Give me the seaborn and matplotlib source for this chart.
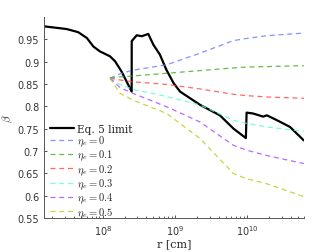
import numpy as np
import pandas as pd
import matplotlib
matplotlib.use("Agg")
import matplotlib.pyplot as plt
import seaborn as sns

# Eq. 5 limit (log10 r, beta)
limit_logr = [7.19, 7.50, 7.66, 7.78, 7.87, 7.96, 8.10, 8.17, 8.26, 8.40, 8.401,
              8.47, 8.54, 8.63, 8.70, 8.79, 8.88, 8.98, 9.07, 9.35, 9.62, 9.81,
              9.98, 9.99, 10.08, 10.22, 10.27, 10.41, 10.59, 10.78]
limit_beta = [0.979, 0.973, 0.966, 0.953, 0.934, 0.923, 0.912, 0.901, 0.878, 0.833, 0.946,
              0.959, 0.957, 0.962, 0.938, 0.916, 0.882, 0.852, 0.833, 0.803, 0.780, 0.750,
              0.729, 0.786, 0.784, 0.777, 0.780, 0.769, 0.754, 0.724]

eta_logr = [8.10, 8.24, 8.42, 8.885, 9.346, 9.806, 9.99, 10.267, 10.783]
eta_labels = ["0", "0.1", "0.2", "0.3", "0.4", "0.5"]
beta_eta0 = [0.863, 0.873, 0.881, 0.893, 0.919, 0.947, 0.952, 0.958, 0.964]
beta_eta1 = [0.863, 0.866, 0.868, 0.874, 0.880, 0.886, 0.888, 0.889, 0.891]
beta_eta2 = [0.863, 0.859, 0.855, 0.849, 0.839, 0.827, 0.824, 0.821, 0.818]
beta_eta3 = [0.863, 0.849, 0.838, 0.822, 0.803, 0.769, 0.762, 0.754, 0.744]
beta_eta4 = [0.863, 0.842, 0.829, 0.799, 0.765, 0.713, 0.702, 0.690, 0.672]
beta_eta5 = [0.863, 0.829, 0.814, 0.784, 0.728, 0.650, 0.638, 0.627, 0.598]
colors = ["#6677ff", "#44aa22", "#ff4444", "#55ffcc", "#aa44ff", "#bbcc11"]

sns.set_style("ticks")
plt.rcParams["mathtext.fontset"] = "cm"

fig = plt.figure(figsize=(3.36, 2.53), dpi=100)
ax = fig.add_axes([0.131, 0.134, 0.774, 0.795])

sns.lineplot(x=10 ** np.array(limit_logr), y=limit_beta, color="black", lw=1.6,
             label="Eq. 5 limit", ax=ax, sort=False)
all_beta = [beta_eta0, beta_eta1, beta_eta2, beta_eta3, beta_eta4, beta_eta5]
for lab, b, c in zip(eta_labels, all_beta, colors):
    sns.lineplot(x=10 ** np.array(eta_logr), y=b, color=c, lw=0.9, alpha=0.8,
                 linestyle=(0, (4, 3)), label=r"$\eta_e = %s$" % lab, ax=ax)

ax.set_xscale("log")
ax.set_xlim(1.54e7, 6.1e10)
ax.set_ylim(0.55, 1.0)
ax.set_yticks(np.arange(0.55, 0.951, 0.05))
ax.set_yticklabels(["0.55", "0.6", "0.65", "0.7", "0.75", "0.8", "0.85", "0.9", "0.95"])
ax.tick_params(labelsize=7, direction="in", length=2, width=0.6, colors="#333333")
ax.tick_params(which="minor", direction="in", length=1.2, width=0.5)
for s in ["top", "right"]:
    ax.spines[s].set_visible(False)
for s in ["left", "bottom"]:
    ax.spines[s].set_color("#555555")
    ax.spines[s].set_linewidth(0.7)
ax.set_xlabel("r [cm]", fontsize=8, family="DejaVu Serif", labelpad=1)
ax.set_ylabel(r"$\beta$", fontsize=8, labelpad=2)

leg = ax.legend(loc="upper left", bbox_to_anchor=(0.0, 0.5), frameon=False,
                handlelength=2.2, handletextpad=0.3, labelspacing=0.0,
                borderaxespad=0.2, prop={"family": "DejaVu Serif", "size": 7.6})

fig.savefig("out.png", dpi=100)
